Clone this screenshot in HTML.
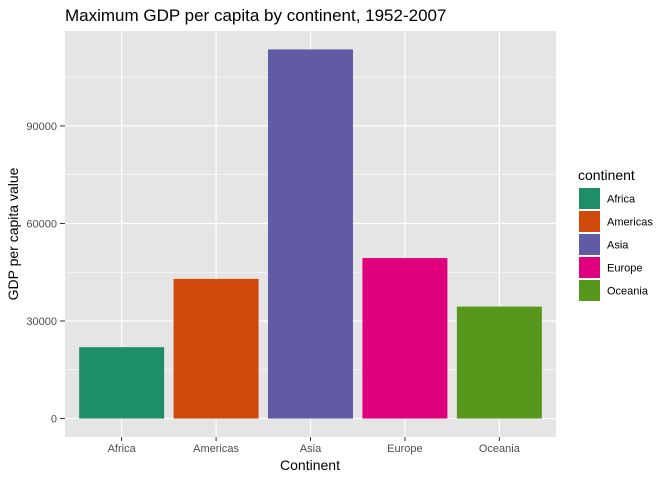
<!DOCTYPE html>
<html><head><meta charset="utf-8"><style>
body{margin:0;background:#fff;font-family:"Liberation Sans",Arial,sans-serif}
</style></head><body>
<svg id="c" width="672" height="480" xmlns="http://www.w3.org/2000/svg" font-family="Liberation Sans, Arial, sans-serif">
<text x="65" y="21" font-size="17" fill="#000">Maximum GDP per capita by continent, 1952-2007</text>
<rect x="65" y="31" width="491" height="406" fill="#e5e5e5"/>
<g id="grid"></g><g id="bars"></g><g id="axes"></g>
<text x="310" y="470" font-size="14" text-anchor="middle">Continent</text>
<text transform="translate(18,234) rotate(-90)" font-size="14" text-anchor="middle">GDP per capita value</text>
<text x="578" y="180" font-size="14">continent</text>
<g id="legend"></g>
</svg>
<script>
const categories=["Africa","Americas","Asia","Europe","Oceania"];
const values=[21951,42952,113523,49357,34435];
const colors=["#1d8e68","#cf4a0a","#615ba6","#e0007e","#57971c"];
const yTicks=[0,30000,60000,90000];
const yMinor=[15000,45000,75000,105000];
const ns="http://www.w3.org/2000/svg";
const L=65,R=556,T=31,B=437;
const ymax=Math.max(...values),pad=ymax*0.05;
const y=v=>B-(v+pad)/(ymax+2*pad)*(B-T);
const step=(R-L)/(categories.length+0.2);
const x=i=>L+step*(0.6+i);
function mk(t,a,p){const e=document.createElementNS(ns,t);for(const k in a)e.setAttribute(k,a[k]);document.getElementById(p).appendChild(e);return e;}
yMinor.forEach(v=>{const e=mk('line',{x1:L,x2:R,y1:y(v),y2:y(v),stroke:'#fff','stroke-width':0.6},'grid');

});
yTicks.forEach(v=>{const e=mk('line',{x1:L,x2:R,y1:y(v),y2:y(v),stroke:'#fff','stroke-width':1.2},'grid');


const t=mk('line',{x1:60,x2:65,y1:y(v),y2:y(v),stroke:'#333','stroke-width':1},'axes');


const l=mk('text',{x:57,y:y(v)+4,'font-size':11,'text-anchor':'end',fill:'#4d4d4d'},'axes');l.textContent=v;

});
categories.forEach((c,i)=>{const g=mk('line',{x1:x(i),x2:x(i),y1:T,y2:B,stroke:'#fff','stroke-width':1.2},'grid');


const w=step*0.9;
const b=mk('rect',{x:x(i)-w/2,y:y(values[i]),width:w,height:y(0)-y(values[i]),fill:colors[i]},'bars');


const t=mk('line',{x1:x(i),x2:x(i),y1:B,y2:B+4,stroke:'#333'},'axes');


const l=mk('text',{x:x(i),y:452,'font-size':11,'text-anchor':'middle',fill:'#4d4d4d'},'axes');l.textContent=c;


const k=mk('rect',{x:579,y:188+i*23,width:21,height:21,fill:colors[i]},'legend');


const lt=mk('text',{x:607,y:202.5+i*23,'font-size':11,fill:'#000'},'legend');lt.textContent=c;

});
</script>
</body></html>
